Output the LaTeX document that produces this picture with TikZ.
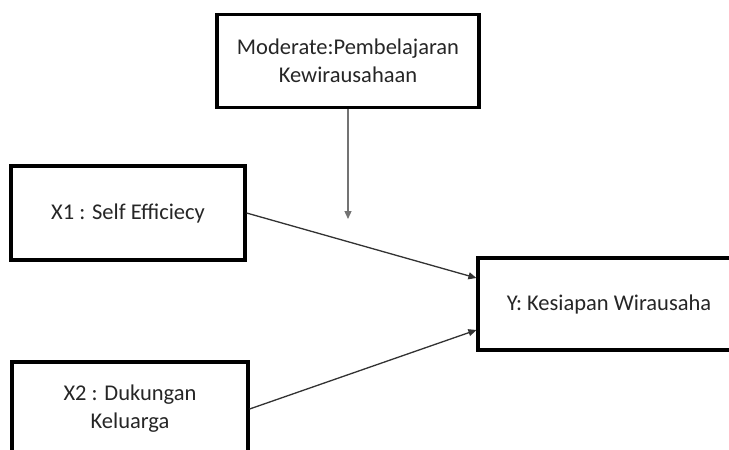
\documentclass[tikz,border=0pt]{standalone}
\usepackage{fontspec}
\setmainfont{Carlito}
\usetikzlibrary{arrows.meta,calc}
\begin{document}
\begin{tikzpicture}[x=1pt,y=-1pt,
  box/.style={draw=black,line width=3.2pt,fill=white,align=center,inner sep=0pt,
    font=\fontsize{22.5}{28}\selectfont,text=black!85},
  link/.style={line width=1.3pt,draw=black!80,-{Triangle[length=8pt,width=7pt]}}]
\useasboundingbox (0,0) rectangle (729,450);
\clip (0,0) rectangle (729,450);
\fill[white] (0,0) rectangle (729,450);
\node[box,minimum width=262pt,minimum height=93pt] (mod) at (348,61) {Moderate:Pembelajaran\\Kewirausahaan};
\node[box,minimum width=234pt,minimum height=94pt] (x1) at (128,213) {X1 : Self Efficiecy};
\node[box,minimum width=262pt,minimum height=92pt] (y) at (609,304) {Y: Kesiapan Wirausaha};
\node[box,minimum width=236pt,minimum height=94pt] (x2) at (130,409) {X2 : Dukungan\\Keluarga};
\coordinate (m) at (348,219);
\draw[link,draw=black!55,fill=black] (mod.south) -- (m);
\draw[link,fill=black] (x1.east) -- ($(y.west)+(0,-26)$);
\draw[link,fill=black] (x2.east) -- ($(y.west)+(0,26)$);
\end{tikzpicture}
\end{document}
